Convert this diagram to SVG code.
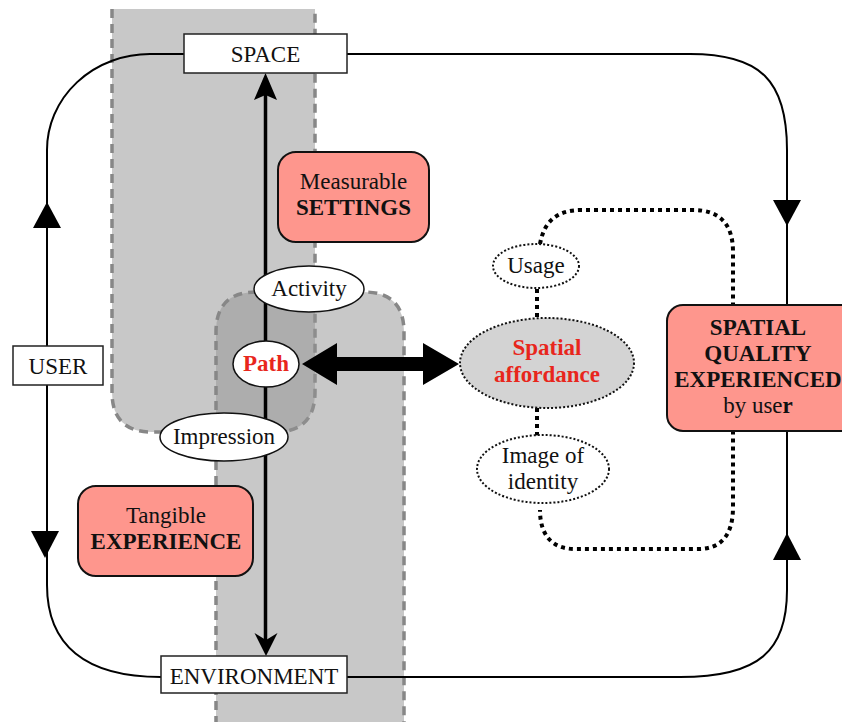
<svg xmlns="http://www.w3.org/2000/svg" width="842" height="722" viewBox="0 0 842 722">
  <defs>
    <style>
      text { font-family: "Liberation Serif", "Times New Roman", serif; font-size: 23px; fill: #111; text-anchor: middle; }
      .bold { font-weight: bold; }
      .red { fill: #e8261c; font-weight: bold; }
      .band { fill: #939393; fill-opacity: 0.51; stroke: none; }
      .band-edge { fill: none; stroke: #878787; stroke-width: 3.5; stroke-dasharray: 9 6; }
      .loop { fill: none; stroke: #000; stroke-width: 2; }
      .box { fill: #fff; stroke: #222; stroke-width: 1.5; }
      .card { fill: #fe968d; stroke: #111; stroke-width: 2; }
      .oval { fill: #fff; stroke: #111; stroke-width: 1.5; }
      .dotted-oval { fill: #fff; stroke: #111; stroke-width: 2; stroke-dasharray: 2 2; }
      .dotted-link { fill: none; stroke: #000; stroke-width: 4; stroke-dasharray: 4 4; }
      .head { fill: #000; stroke: none; }
    </style>
  </defs>

  <rect width="842" height="722" fill="#fff"/>

  <!-- shaded zones -->
  <g id="zone-space">
    <path class="band" d="M112,9 L315,9 L315,392 Q315,432 275,432 L152,432 Q112,432 112,392 Z"/>
    <path class="band-edge" d="M112,9 L112,392 Q112,432 152,432 L275,432 Q315,432 315,392 L315,9"/>
  </g>
  <g id="zone-environment">
    <path class="band" d="M216,740 L216,332 Q216,292 256,292 L364,292 Q404,292 404,332 L404,740 Z"/>
    <path class="band-edge" d="M216,740 L216,332 Q216,292 256,292 L364,292 Q404,292 404,332 L404,740"/>
  </g>

  <!-- connectors -->
  <g id="connectors">
    <!-- outer loop -->
    <path class="loop" d="M184,54 L150,54 A103,96 0 0 0 47,150 L47,585 C47,645 85,677 161,677"/>
    <path class="loop" d="M347,54 L690,54 C760,54 787,80 787,150 L787,590 C787,650 760,677 680,677 L347,677"/>
    <polygon class="head" points="47,202 61,228 33,228"/>
    <polygon class="head" points="45,558 59,531 31,531"/>
    <polygon class="head" points="787,226 801,200 773,200"/>
    <polygon class="head" points="787,533 801,560 773,560"/>

    <!-- space / environment axis -->
    <line x1="265.5" y1="94" x2="265.5" y2="640" stroke="#000" stroke-width="3.5"/>
    <polygon class="head" points="265.5,73 277,100 265.5,95 254,100"/>
    <polygon class="head" points="266,656 277.5,633 266,640 254.5,633"/>

    <!-- path to affordance -->
    <polygon class="head" points="302,364 337,343 337,357 423,357 423,343 459,364 423,385 423,371 337,371 337,385"/>

    <!-- affordance loop -->
    <path class="dotted-link" d="M540,244 C544,222 556,210 582,210 L693,210 Q733,210 733,252 L733,507 Q733,549 698,549 L575,549 C552,549 540,535 540,510"/>
    <line class="dotted-link" x1="537" y1="289" x2="537" y2="318"/>
    <line class="dotted-link" x1="537" y1="408" x2="537" y2="436"/>
  </g>

  <!-- nodes -->
  <g id="space">
    <rect class="box" x="184" y="34" width="163" height="39"/>
    <text x="265.5" y="62">SPACE</text>
  </g>
  <g id="environment">
    <rect class="box" x="161" y="656" width="186" height="37"/>
    <text x="254" y="684">ENVIRONMENT</text>
  </g>
  <g id="user">
    <rect class="box" x="13" y="346" width="90" height="39"/>
    <text x="58" y="374">USER</text>
  </g>
  <g id="settings">
    <rect class="card" x="278" y="152" width="151" height="90" rx="18"/>
    <text x="353.5" y="189">Measurable</text>
    <text class="bold" x="353.5" y="215">SETTINGS</text>
  </g>
  <g id="experience">
    <rect class="card" x="78" y="486" width="175" height="90" rx="18"/>
    <text x="166" y="523">Tangible</text>
    <text class="bold" x="166" y="549">EXPERIENCE</text>
  </g>
  <g id="activity">
    <ellipse class="oval" cx="309" cy="289" rx="55" ry="23"/>
    <text x="309" y="296">Activity</text>
  </g>
  <g id="path">
    <ellipse class="oval" cx="266" cy="364" rx="33" ry="23"/>
    <text class="red" x="266" y="371">Path</text>
  </g>
  <g id="impression">
    <ellipse class="oval" cx="224" cy="437" rx="64" ry="24"/>
    <text x="224" y="444">Impression</text>
  </g>
  <g id="usage">
    <ellipse class="dotted-oval" cx="536" cy="266" rx="43" ry="22"/>
    <text x="536" y="273">Usage</text>
  </g>
  <g id="affordance">
    <ellipse class="dotted-oval" cx="547" cy="363" rx="87" ry="45" style="fill:#d3d3d3"/>
    <text class="red" x="547" y="355">Spatial</text>
    <text class="red" x="547" y="382">affordance</text>
  </g>
  <g id="identity">
    <ellipse class="dotted-oval" cx="543" cy="469" rx="66" ry="34"/>
    <text x="543" y="463">Image of</text>
    <text x="543" y="489">identity</text>
  </g>
  <g id="quality">
    <rect class="card" x="667" y="305" width="200" height="126" rx="16"/>
    <text class="bold" x="758" y="335">SPATIAL</text>
    <text class="bold" x="758" y="361">QUALITY</text>
    <text class="bold" x="758" y="387">EXPERIENCED</text>
    <text x="758" y="413">by use<tspan class="bold">r</tspan></text>
  </g>
</svg>
